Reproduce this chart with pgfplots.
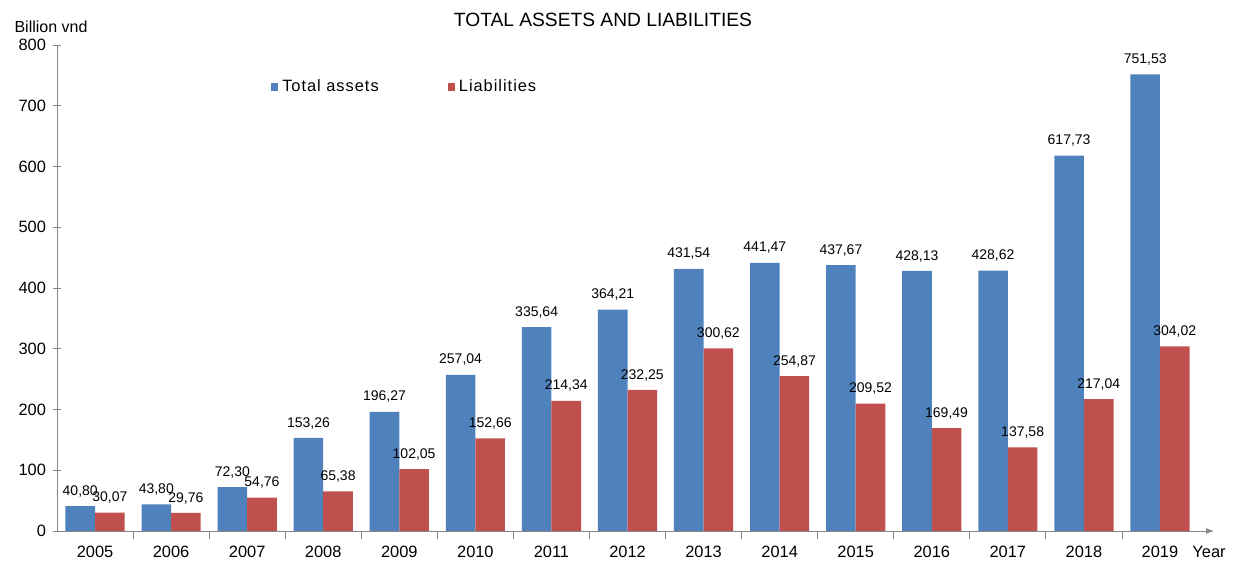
\documentclass[border=0pt]{standalone}
\usepackage{pgfplots}
\pgfplotsset{compat=1.18}
\usepackage{fontspec}
\setmainfont{Liberation Sans}
\usetikzlibrary{arrows.meta}
\definecolor{cblue}{RGB}{79,129,189}
\definecolor{cred}{RGB}{192,80,77}
\definecolor{axgray}{RGB}{134,134,134}
\begin{document}
\begin{tikzpicture}
\begin{axis}[
  scale only axis,
  width=570.5pt, height=243pt,
  xmin=-0.5, xmax=14.5,
  ymin=0, ymax=800,
  ytick={0,100,...,800},
  xtick={0,...,14},
  xticklabels={2005,2006,2007,2008,2009,2010,2011,2012,2013,2014,2015,2016,2017,2018,2019},
  minor xtick={0.5,1.5,...,13.5},
  major x tick style={draw=none},
  tick align=outside,
  tick style={axgray, thin},
  major tick length=4pt, minor tick length=4pt,
  axis x line=bottom, axis y line=left,
  x axis line style={-{Latex[length=4pt,width=3pt]}, axgray, shorten >=-8pt},
  y axis line style={-, axgray},
  ybar=0pt, bar width=14.8pt,
  /pgf/number format/assume math mode=true,
  ticklabel style={font=\fontsize{8.2}{9}\selectfont},
  nodes near coords={\pgfmathprintnumber[fixed,fixed zerofill,precision=2,use comma]{\pgfplotspointmeta}},
  every node near coord/.append style={font=\fontsize{7}{8}\selectfont, black, yshift=1pt},
  legend style={draw=none, fill=none, at={(rel axis cs:0.182,0.9136)}, anchor=west,
    legend columns=2, font=\fontsize{8.2}{9}\selectfont\addfontfeature{LetterSpace=6},
    /tikz/every even column/.append style={column sep=32.5pt}},
  legend image code/.code={\fill[#1] (0pt,-1.8pt) rectangle (3.6pt,1.8pt);},
  clip=false,
]
\addplot[fill=cblue, draw=none] coordinates {
 (0,40.80) (1,43.80) (2,72.30) (3,153.26) (4,196.27) (5,257.04) (6,335.64) (7,364.21)
 (8,431.54) (9,441.47) (10,437.67) (11,428.13) (12,428.62) (13,617.73) (14,751.53)};
\addplot[fill=cred, draw=none] coordinates {
 (0,30.07) (1,29.76) (2,54.76) (3,65.38) (4,102.05) (5,152.66) (6,214.34) (7,232.25)
 (8,300.62) (9,254.87) (10,209.52) (11,169.49) (12,137.58) (13,217.04) (14,304.02)};
\legend{Total assets, Liabilities}
\node[anchor=base, font=\fontsize{8}{9}\selectfont] at ([xshift=-3pt,yshift=6pt]rel axis cs:0,1) {Billion vnd};
\node[font=\fontsize{8.2}{9}\selectfont] at ([xshift=5.5pt,yshift=-10.5pt]rel axis cs:1,0) {Year};
\node[font=\fontsize{9.6}{11}\selectfont] at ([yshift=12.5pt]rel axis cs:0.4785,1) {TOTAL ASSETS AND LIABILITIES};
\path ([xshift=-28.5pt,yshift=-17pt]rel axis cs:0,0) rectangle ([xshift=20.5pt,yshift=22.5pt]rel axis cs:1,1);
\end{axis}
\end{tikzpicture}
\end{document}
